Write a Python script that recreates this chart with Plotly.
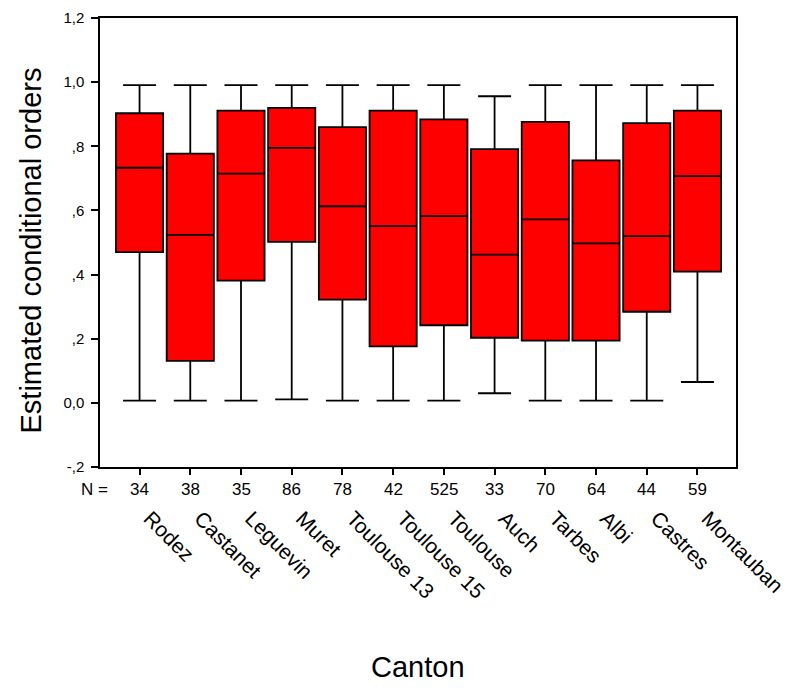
import plotly.graph_objects as go

cantons = ["Rodez", "Castanet", "Leguevin", "Muret", "Toulouse 13", "Toulouse 15",
           "Toulouse", "Auch", "Tarbes", "Albi", "Castres", "Montauban"]
counts = [34, 38, 35, 86, 78, 42, 525, 33, 70, 64, 44, 59]
lower = [0.007, 0.007, 0.007, 0.011, 0.007, 0.007, 0.007, 0.030, 0.007, 0.007, 0.007, 0.065]
q1 = [0.470, 0.131, 0.381, 0.502, 0.322, 0.176, 0.242, 0.203, 0.194, 0.194, 0.284, 0.409]
median = [0.733, 0.524, 0.715, 0.795, 0.613, 0.551, 0.582, 0.462, 0.572, 0.497, 0.520, 0.707]
q3 = [0.903, 0.777, 0.911, 0.920, 0.860, 0.911, 0.884, 0.791, 0.876, 0.756, 0.872, 0.911]
upper = [0.991, 0.991, 0.991, 0.991, 0.991, 0.991, 0.991, 0.956, 0.991, 0.991, 0.991, 0.991]
y_tickvals = [-0.2, 0.0, 0.2, 0.4, 0.6, 0.8, 1.0, 1.2]
y_ticktext = ["-,2", "0,0", ",2", ",4", ",6", ",8", "1,0", "1,2"]

pos = list(range(len(cantons)))
FONT = "Liberation Sans, Arial, Helvetica, sans-serif"
X_RANGE = [-0.78, 11.76]
LABEL_OFFSET = 0.2  # shift of rotated name labels relative to ticks (category units)

fig = go.Figure()
fig.add_trace(go.Box(
    x=pos, q1=q1, median=median, q3=q3, lowerfence=lower, upperfence=upper,
    width=0.93, whiskerwidth=0.70, fillcolor="#ff0000",
    line=dict(color="black", width=1.8), boxpoints=False, hoverinfo="skip",
    showlegend=False,
))

annotations = []
for p, n in zip(pos, counts):
    annotations.append(dict(x=p, y=0, xref="x", yref="paper", yshift=-22, yanchor="middle",
                            text=str(n), showarrow=False,
                            font=dict(family=FONT, size=17, color="black")))
annotations.append(dict(x=0, y=0, xref="paper", yref="paper", xshift=10, yshift=-22,
                        text="N =", showarrow=False, xanchor="right", yanchor="middle",
                        font=dict(family=FONT, size=17, color="black")))
annotations.append(dict(x=0.5, y=0, xref="paper", yref="paper", yshift=-200, yanchor="middle",
                        text="Canton", showarrow=False,
                        font=dict(family=FONT, size=29, color="black")))
annotations.append(dict(x=0, y=0.5, xref="paper", yref="paper", xshift=-70, yshift=-8,
                        xanchor="center",
                        text="Estimated conditional orders", showarrow=False, textangle=-90,
                        font=dict(family=FONT, size=29, color="black")))

fig.update_layout(
    width=783, height=674,
    margin=dict(l=92, r=55, t=10, b=215, autoexpand=False),
    plot_bgcolor="white", paper_bgcolor="white",
    font=dict(family=FONT, color="black"),
    annotations=annotations,
    xaxis=dict(
        range=X_RANGE, tickmode="array", tickvals=pos, showticklabels=False,
        ticks="outside", ticklen=6, tickwidth=1.5, tickcolor="black",
        showline=True, linecolor="black", linewidth=1.5, mirror=True,
        showgrid=False, zeroline=False, automargin=False,
    ),
    xaxis2=dict(
        overlaying="x", side="bottom", range=X_RANGE, tickmode="array",
        tickvals=[p + LABEL_OFFSET for p in pos], ticktext=cantons,
        tickangle=45, ticks="", ticklabelstandoff=34, ticklabeloverflow="allow",
        tickfont=dict(family=FONT, size=21, color="black"),
        showline=False, showgrid=False, zeroline=False, automargin=False,
    ),
    yaxis=dict(
        range=[-0.2, 1.2], tickmode="array", tickvals=y_tickvals, ticktext=y_ticktext,
        ticks="outside", ticklen=7, tickwidth=1.5, tickcolor="black",
        ticklabelstandoff=4,
        tickfont=dict(family=FONT, size=15, color="black"),
        showline=True, linecolor="black", linewidth=1.5, mirror=True,
        showgrid=False, zeroline=False, automargin=False,
    ),
)
# invisible trace to activate the label axis
fig.add_trace(go.Scatter(x=[pos[0]], y=[None], xaxis="x2", showlegend=False,
                         hoverinfo="skip", mode="markers"))

fig.write_html("out.html")
